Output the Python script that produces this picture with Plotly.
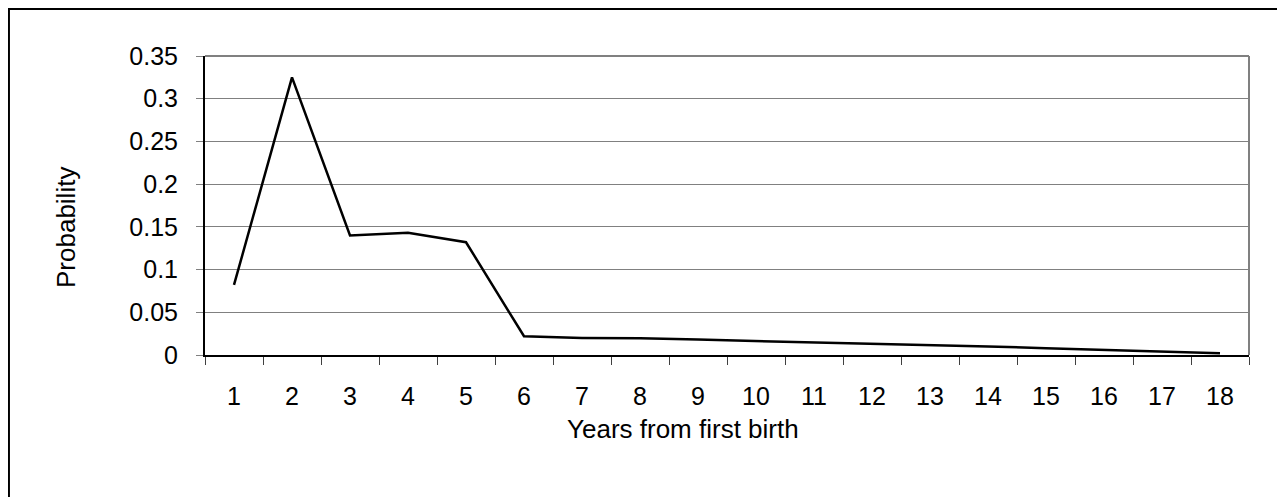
import plotly.graph_objects as go

years = [str(i) for i in range(1, 19)]
probability = [0.082, 0.325, 0.140, 0.143, 0.132, 0.022, 0.020, 0.0195, 0.018,
               0.0165, 0.015, 0.0135, 0.012, 0.010, 0.008, 0.006, 0.004, 0.002]
y_ticks = [0, 0.05, 0.1, 0.15, 0.2, 0.25, 0.3, 0.35]
y_tick_text = ["0", "0.05", "0.1", "0.15", "0.2", "0.25", "0.3", "0.35"]

# page has an 8px body margin; figure coordinates = page - 8
OFF = 8
W, H = 1285 - OFF, 497 - OFF
L, T = 205 - OFF, 56 - OFF
R = W - (1249 - OFF)
B = H - (355 - OFF)
pw, ph = W - L - R, H - T - B


def px_x(page_x):
    return (page_x - OFF - L) / pw


def px_y(page_y):
    return (T + ph - (page_y - OFF)) / ph


FS = 25
font = dict(family="Liberation Sans, Arial, sans-serif", size=FS, color="black")
title_font = dict(family="Liberation Sans, Arial, sans-serif", size=26, color="black")

fig = go.Figure()
fig.add_trace(go.Scatter(x=years, y=probability, mode="lines",
                         line=dict(color="black", width=2.5), hoverinfo="skip"))

fig.update_layout(
    width=W, height=H,
    margin=dict(l=L, r=R, t=T, b=B, pad=0),
    paper_bgcolor="white", plot_bgcolor="white",
    showlegend=False, font=font,
    xaxis=dict(type="category", categoryorder="array", categoryarray=years,
               range=[-0.5, 17.5], tickson="boundaries", ticks="outside",
               ticklen=8, tickcolor="#404040", tickwidth=1,
               showgrid=False, showline=True, linecolor="black", linewidth=2,
               zeroline=False, tickfont=font, ticklabelstandoff=18),
    yaxis=dict(range=[0, 0.35], tickvals=y_ticks, ticktext=y_tick_text,
               ticks="outside", ticklen=7, tickcolor="#808080", tickwidth=1,
               showgrid=True, gridcolor="#808080", gridwidth=1,
               showline=True, linecolor="black", linewidth=2,
               zeroline=False, tickfont=font, ticklabelstandoff=13),
    annotations=[
        dict(text="Years from first birth", xref="paper", yref="paper",
             x=px_x(683), y=px_y(429), xanchor="center", yanchor="middle",
             showarrow=False, font=title_font),
        dict(text="Probability", xref="paper", yref="paper",
             x=px_x(66), y=px_y(228), xanchor="center", yanchor="middle",
             textangle=-90, showarrow=False, font=title_font),
    ],
    shapes=[
        dict(type="line", xref="paper", yref="paper", x0=1, x1=1, y0=0, y1=1,
             line=dict(color="#808080", width=2)),
        dict(type="line", xref="paper", yref="paper", x0=0, x1=1, y0=1, y1=1,
             line=dict(color="#808080", width=2)),
        dict(type="rect", xref="paper", yref="paper",
             x0=(0.7 - L) / pw, x1=(W + 20 - L) / pw,
             y0=-(H + 20 - T - ph) / ph, y1=(T + ph - 0.7) / ph,
             line=dict(color="black", width=2.5), fillcolor="rgba(0,0,0,0)"),
    ],
)

fig.write_html("out.html")
